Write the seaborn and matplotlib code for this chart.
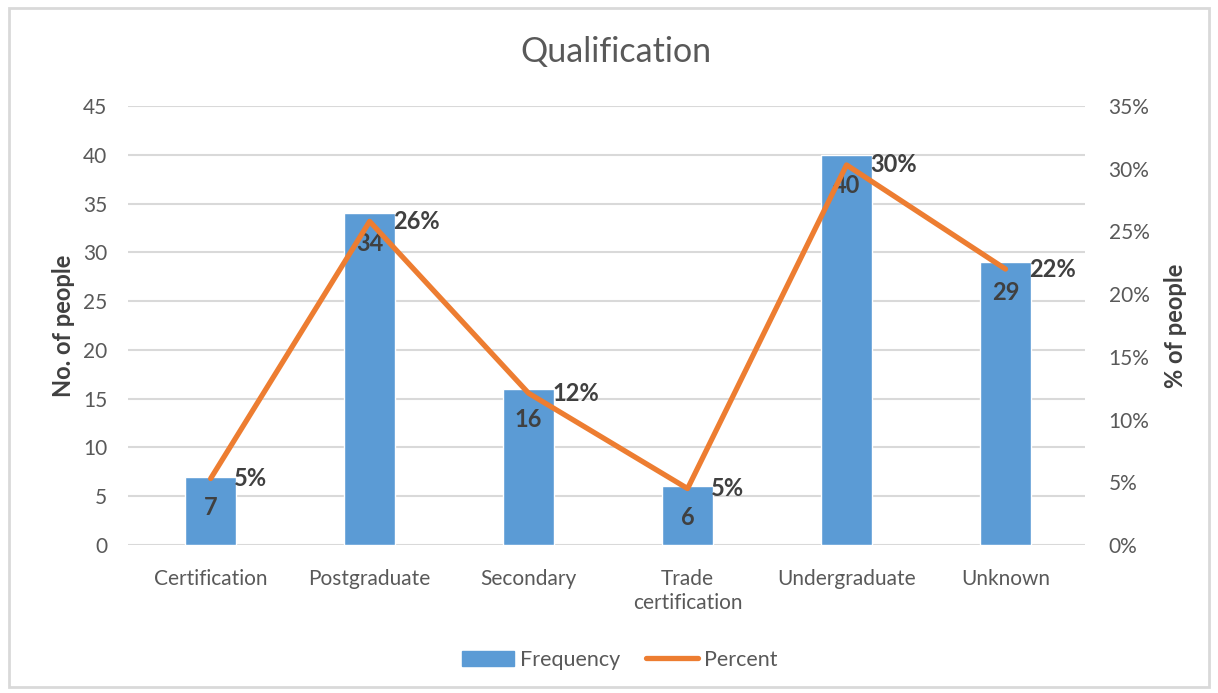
import matplotlib
matplotlib.use("Agg")
import matplotlib.pyplot as plt
import matplotlib.patches as mpatches
from matplotlib.lines import Line2D
import seaborn as sns
import numpy as np
import pandas as pd

categories = ["Certification", "Postgraduate", "Secondary", "Trade\ncertification", "Undergraduate", "Unknown"]
frequency = [7, 34, 16, 6, 40, 29]
percent = [5.3, 25.8, 12.1, 4.5, 30.3, 22.0]
percent_labels = ["5%", "26%", "12%", "5%", "30%", "22%"]
left_ticks = [0, 5, 10, 15, 20, 25, 30, 35, 40, 45]
right_ticks = [0, 5, 10, 15, 20, 25, 30, 35]

sns.set_theme(style="white")
plt.rcParams['font.family'] = ['Lato', 'DejaVu Sans']

BLUE = "#5B9BD5"
ORANGE = "#ED7D31"
TXT = "#595959"
LBL = "#404040"

fig = plt.figure(figsize=(12.18, 6.93), dpi=100)
ax = fig.add_axes([128/1218, 1-545/693, (1085-128)/1218, (545-106)/693])

df = pd.DataFrame({"cat": categories, "freq": frequency})
sns.barplot(data=df, x="cat", y="freq", color=BLUE, saturation=1, width=0.32, ax=ax, zorder=3)

ax.set_ylim(0, 45)
ax.set_yticks(left_ticks)
ax.set_xlim(-0.52, 5.5)
ax.grid(axis="y", color="#d9d9d9", linewidth=1.5, zorder=0)
ax.set_axisbelow(True)
for s in ax.spines.values():
    s.set_visible(False)
ax.tick_params(axis="y", labelsize=15, colors=TXT, pad=15, length=0)
ax.tick_params(axis="x", labelsize=15, colors=TXT, pad=17, length=0)
for t in ax.get_xticklabels():
    t.set_linespacing(1.25)
ax.set_xlabel("")
ax.set_ylabel("No. of people", fontsize=17, fontweight="bold", color=LBL)
ax.yaxis.set_label_coords(-0.055, 0.5)

for i, v in enumerate(frequency):
    ax.annotate(str(v), (i, v), xytext=(0, -22), textcoords="offset points",
                ha="center", va="center", fontsize=17, fontweight="bold", color=LBL, zorder=6)

ax2 = ax.twinx()
sns.lineplot(x=np.arange(len(categories)), y=percent, color=ORANGE, linewidth=3.8, ax=ax2, zorder=5,
             solid_capstyle="round")
ax2.set_ylim(0, 35)
ax2.set_yticks(right_ticks)
ax2.set_yticklabels([f"{t}%" for t in right_ticks])
for s in ax2.spines.values():
    s.set_visible(False)
ax2.tick_params(axis="y", labelsize=15, colors=TXT, pad=17, length=0)
ax2.set_ylabel("% of people", fontsize=17, fontweight="bold", color=LBL, rotation=90)
ax2.yaxis.set_label_coords(1.083, 0.5)
ax2.grid(False)

for i, (v, l) in enumerate(zip(percent, percent_labels)):
    ax2.annotate(l, (i, v), xytext=(17, 0), textcoords="offset points",
                 ha="left", va="center", fontsize=17, fontweight="bold", color=LBL, zorder=7)

fig.text(616/1218, 1-52/693, "Qualification", ha="center", va="center", fontsize=24.5, color=TXT)

handles = [mpatches.Patch(color=BLUE, label="Frequency"),
           Line2D([0], [0], color=ORANGE, linewidth=3.8, label="Percent")]
fig.legend(handles=handles, loc="center", bbox_to_anchor=(620/1218, 1-660/693), ncol=2,
           frameon=False, fontsize=15.5, labelcolor=TXT, handlelength=2.4, columnspacing=1.2,
           handletextpad=0.3)

border = mpatches.Rectangle((9/1218, 6/693), 1-18/1218, 1-14/693, transform=fig.transFigure,
                            fill=False, edgecolor="#d9d9d9", linewidth=2)
fig.patches.append(border)

fig.savefig("out.png", dpi=100)
